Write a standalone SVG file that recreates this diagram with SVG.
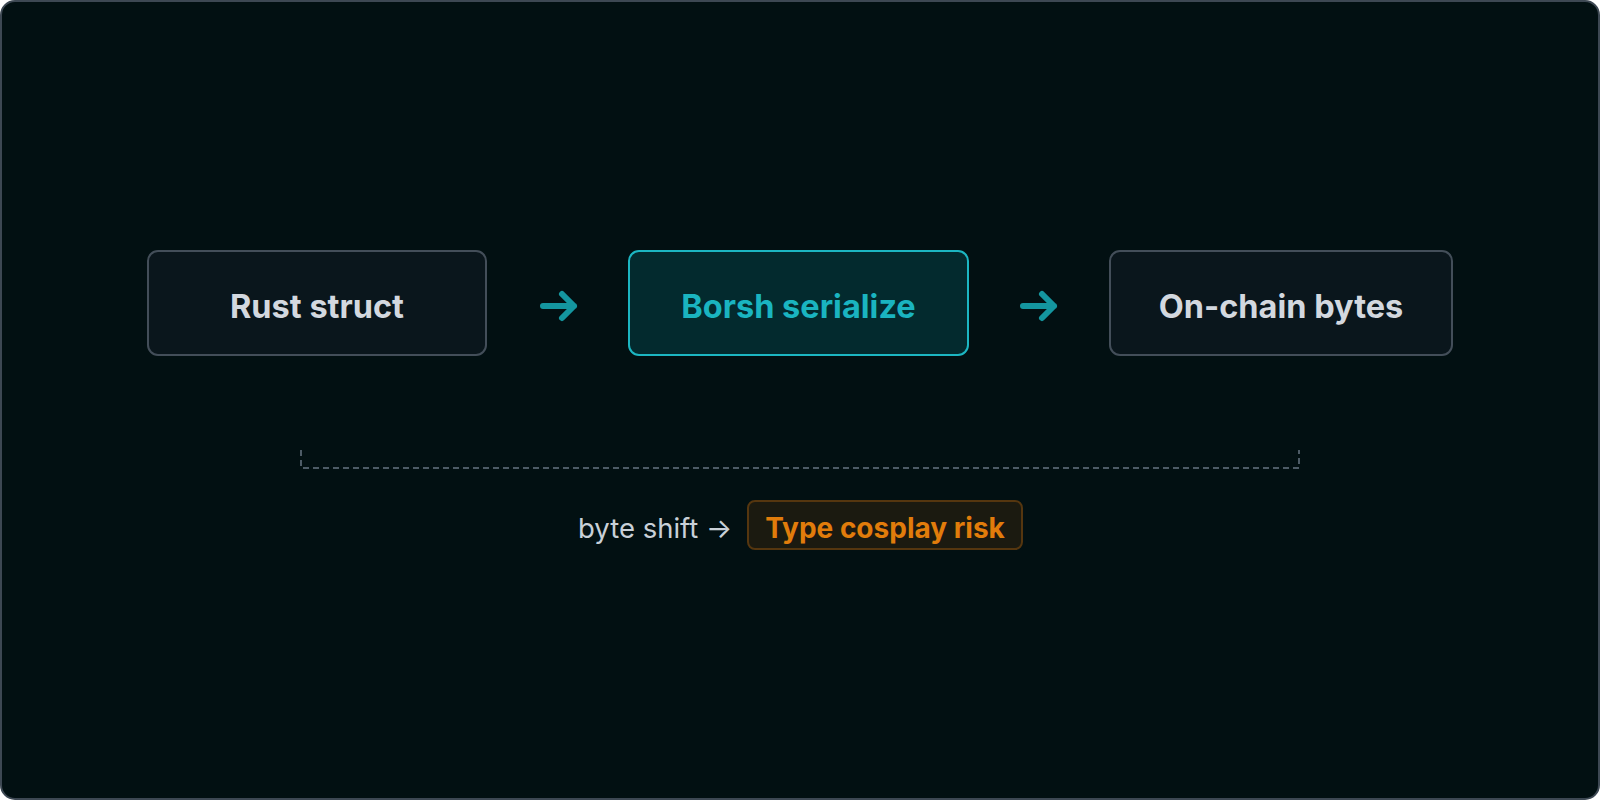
<svg xmlns="http://www.w3.org/2000/svg" width="1600" height="800" viewBox="0 0 1600 800">
<style>
.node rect{fill:#0a161c;stroke:#434e59;stroke-width:2}
.node text{font-family:Inter,"Noto Sans",sans-serif;font-weight:700;font-size:32.5px;fill:#d3d8df;text-anchor:middle}
.hl rect{fill:#032a2e;stroke:#1cb6c2}
.hl text{fill:#1ab4c0}
.arrow{fill:none;stroke:#14969f;stroke-width:6;stroke-linecap:round;stroke-linejoin:round}
</style>
<rect x="1" y="1" width="1598" height="798" rx="14" fill="#021012" stroke="#3d4853" stroke-width="2"/>
<g id="rust-struct" class="node">
<rect x="148" y="251" width="338" height="104" rx="10"/>
<text x="317" y="318">Rust struct</text>
</g>
<g id="borsh-serialize" class="node hl">
<rect x="629" y="251" width="339" height="104" rx="10"/>
<text x="798.5" y="318">Borsh serialize</text>
</g>
<g id="on-chain-bytes" class="node">
<rect x="1110" y="251" width="342" height="104" rx="10"/>
<text x="1281" y="318">On-chain bytes</text>
</g>
<g id="connectors">
<path class="arrow" d="M543 306 H574 M562 294 L574 306 L562 318"/>
<path class="arrow" d="M1023 306 H1054 M1042 294 L1054 306 L1042 318"/>
<path d="M301 450 V468 H1299 V450" fill="none" stroke="#4d5b66" stroke-width="2" stroke-dasharray="6 4"/>
</g>
<g id="risk">
<text x="578" y="538" font-family="Inter,'Noto Sans',sans-serif" font-size="27.5" fill="#c9d0d8">byte shift →</text>
<rect x="748" y="501" width="274" height="48" rx="7" fill="#1b1a10" stroke="#55360f" stroke-width="2"/>
<text x="885" y="538" font-family="Inter,'Noto Sans',sans-serif" font-size="28" font-weight="700" fill="#e17c0b" text-anchor="middle">Type cosplay risk</text>
</g>
</svg>
